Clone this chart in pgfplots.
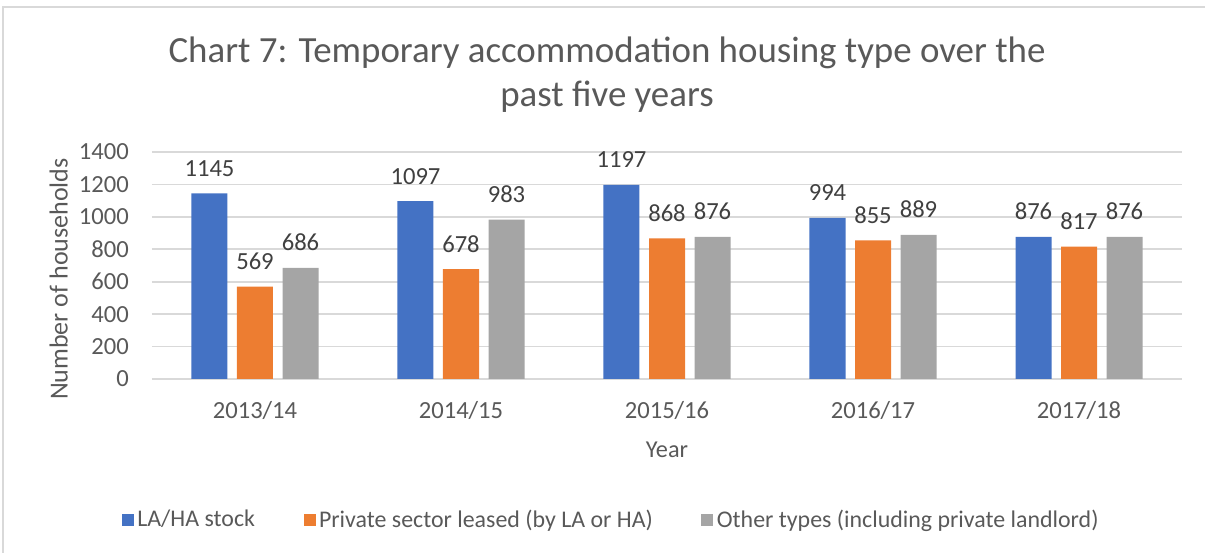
\documentclass[border=0pt]{standalone}
\usepackage{pgfplots}
\pgfplotsset{compat=1.18}
\usepackage{fontspec}
\setmainfont{Carlito}
\definecolor{xlblue}{HTML}{4472C4}
\definecolor{xlorange}{HTML}{ED7D31}
\definecolor{xlgray}{HTML}{A5A5A5}
\definecolor{txt}{HTML}{595959}
\definecolor{gridc}{HTML}{D9D9D9}
\begin{document}
\begin{tikzpicture}
\useasboundingbox (0,0) rectangle (24.1,11.06);
\draw[gridc, line width=0.8pt] (0.06,0) -- (0.06,10.92) -- (24.1,10.92);
\node[anchor=base, text=txt, font=\fontsize{21}{25}\selectfont] at (12.14,9.8) {Chart 7: Temporary accommodation housing type over the};
\node[anchor=base, text=txt, font=\fontsize{21}{25}\selectfont] at (12.14,8.92) {past five years};
\begin{axis}[
  at={(3.04cm,3.48cm)}, anchor=south west,
  scale only axis, width=20.6cm, height=4.54cm,
  ybar=0.19cm, bar width=0.72cm,
  xmin=-0.5, xmax=4.5, ymin=0, ymax=1400,
  ytick={0,200,...,1400},
  xtick={0,1,2,3,4},
  xticklabels={2013/14,2014/15,2015/16,2016/17,2017/18},
  ymajorgrids, grid style={gridc, line width=0.9pt},
  axis line style={draw=none}, major tick length=0pt,
  /pgf/number format/assume math mode=true,
  /pgf/number format/1000 sep={},
  tick label style={text=txt, font=\fontsize{14}{16}\selectfont},
  yticklabel style={xshift=-0.34cm},
  xticklabel style={yshift=-0.33cm},
  xlabel={Year}, ylabel={Number of households},
  every axis x label/.style={at={(axis description cs:0.5,0)}, anchor=center, yshift=-1.42cm, text=txt, font=\fontsize{13.8}{16}\selectfont},
  every axis y label/.style={at={(axis description cs:-0.0905,0.44)}, anchor=center, rotate=90, text=txt, font=\fontsize{14.8}{17}\selectfont},
  nodes near coords,
  every node near coord/.append style={anchor=base, yshift=0.34cm, text=black!75, font=\fontsize{14}{16}\selectfont},
  legend columns=3,
  legend style={at={(0.4466,-0.621)}, anchor=center, draw=none, fill=none,
    font=\fontsize{13.6}{16}\selectfont, text=txt,
    /tikz/every even column/.append style={column sep=0.9cm}},
  legend image code/.code={\fill (0cm,-0.12cm) rectangle (0.24cm,0.12cm);},
]
\addplot[fill=xlblue, draw=none] coordinates {(0,1145) (1,1097) (2,1197) (3,994) (4,876)};
\addlegendentry{LA/HA stock}
\addplot[fill=xlorange, draw=none] coordinates {(0,569) (1,678) (2,868) (3,855) (4,817)};
\addlegendentry{Private sector leased (by LA or HA)}
\addplot[fill=xlgray, draw=none] coordinates {(0,686) (1,983) (2,876) (3,889) (4,876)};
\addlegendentry{Other types (including private landlord)}
\end{axis}
\end{tikzpicture}
\end{document}
